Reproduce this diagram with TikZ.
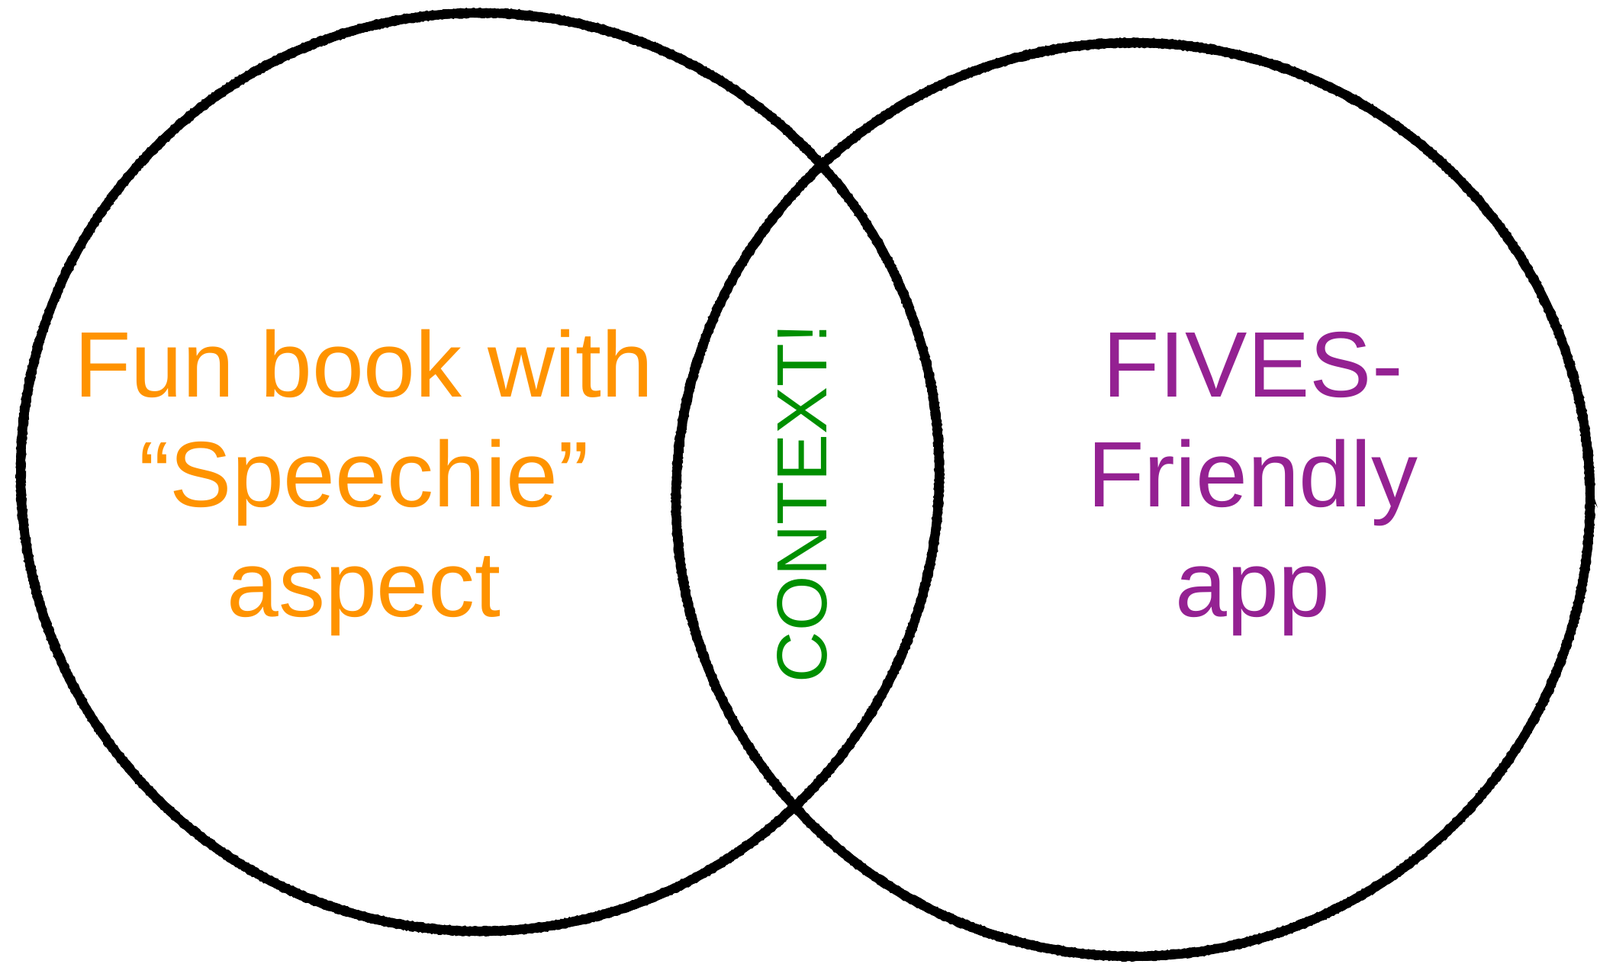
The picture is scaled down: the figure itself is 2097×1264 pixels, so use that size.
\documentclass[tikz,border=0pt]{standalone}
\usepackage{fontspec}
\setmainfont{Liberation Sans}
\usetikzlibrary{decorations.pathmorphing}
\definecolor{funorange}{HTML}{FF9300}
\definecolor{appurple}{HTML}{942192}
\definecolor{ctxgreen}{HTML}{008F00}
\tikzset{
  ring/.style={circle, draw=black, line width=12pt, inner sep=0pt},
  fuzz/.style={draw=black, line width=2.5pt,
    decorate, decoration={random steps, segment length=2.5pt, amplitude=1pt}},
  lbl/.style={align=center, inner sep=0pt, font=\fontsize{122}{144}\selectfont},
}
\begin{document}
\begin{tikzpicture}[x=1pt,y=-1pt]
\useasboundingbox (0,0) rectangle (2097,1264);
\node[ring, minimum size=1204pt] (left) at (629,619) {};
\node[ring, minimum size=1198pt] (right) at (1485,655) {};
\draw[fuzz] (left.center) circle[radius=607pt];
\draw[fuzz] (left.center) circle[radius=597pt];
\draw[fuzz] (right.center) circle[radius=604pt];
\draw[fuzz] (right.center) circle[radius=594pt];
\node[lbl, text=funorange, anchor=base] (fun) at (477,808) {Fun book with\\“Speechie”\\aspect};
\node[lbl, text=appurple, anchor=base] (fives) at (1642,808) {FIVES-\\Friendly\\app};
\node[inner sep=0pt, text=ctxgreen, rotate=90, anchor=base, font=\fontsize{93}{110}\selectfont] (ctx) at (1083,660) {CONTEXT!};
\end{tikzpicture}
\end{document}
